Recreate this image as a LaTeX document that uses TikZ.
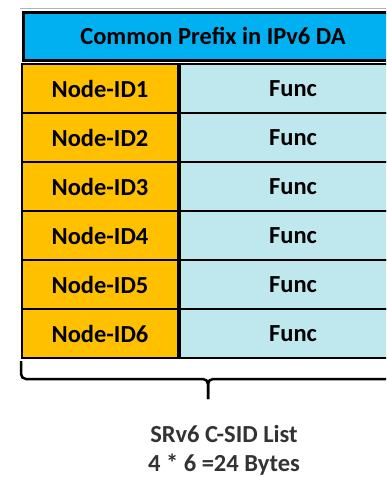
\documentclass[tikz,border=0pt]{standalone}
\usepackage{fontspec}
\setmainfont{Carlito}
\usetikzlibrary{positioning}

\definecolor{prefixblue}{HTML}{00B0F0}
\definecolor{idorange}{HTML}{FFC000}
\definecolor{funcblue}{HTML}{BEE7EE}
\definecolor{notegray}{HTML}{333333}

\tikzset{
  cell/.style={draw=black, line width=2pt, inner sep=0pt,
    font=\fontsize{24.5}{29}\selectfont\bfseries},
  idcell/.style={cell, fill=idorange, minimum width=156pt, minimum height=49pt},
  funccell/.style={cell, fill=funcblue, minimum width=226pt, minimum height=49pt},
}

\begin{document}
\begin{tikzpicture}[x=1pt, y=-1pt]
\useasboundingbox (0,0) rectangle (386,477);
\clip (0,0) rectangle (386,477);

% header
\draw[gray!60, line width=1pt] (20,8) -- (386,8);
\node[cell, line width=3pt, fill=prefixblue, anchor=north west,
  minimum width=380pt, minimum height=48pt] (prefix) at (21.5,10.5)
  {Common Prefix in IPv6 DA};

% rows
\foreach \i in {1,...,6}{
  \node[idcell, anchor=north west] (id\i) at (21,{63+49*(\i-1)}) {Node-ID\i};
  \node[funccell, right=0pt of id\i] (func\i) {Func};
}

% brace
\coordinate (bl) at (21,361);
\coordinate (bm) at (208,379);
\coordinate (bt) at (208,399);
\coordinate (br) at (420,361);
\draw[line width=2.5pt, rounded corners=5pt] (bl) |- (bm) -- (bt);
\draw[line width=2.5pt, rounded corners=5pt] (br) |- (bm) -- (bt);

\node[font=\fontsize{24.5}{29}\selectfont\bfseries, text=notegray, align=center,
  inner sep=1pt] (caption) at (224,450) {SRv6 C-SID List\\4 * 6 =24 Bytes};
\end{tikzpicture}
\end{document}
